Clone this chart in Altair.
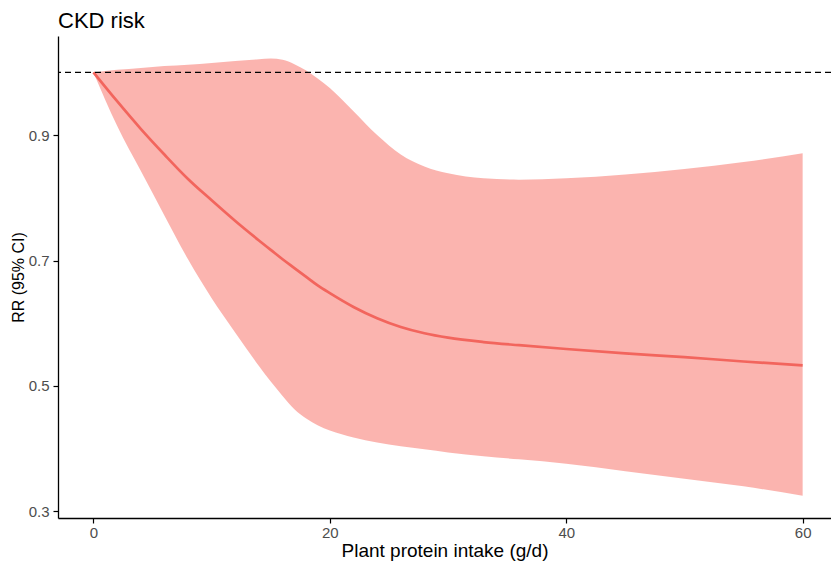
import altair as alt
import pandas as pd

# Values
x_vals = [0, 2, 4, 6, 8, 10, 12, 14, 15, 16, 17, 18, 19, 20, 22, 24, 26, 28, 30, 33, 36, 40, 45, 50, 55, 60]
rr = [1.000, 0.954, 0.910, 0.869, 0.830, 0.796, 0.763, 0.732, 0.717, 0.702, 0.688, 0.674, 0.660, 0.648,
      0.626, 0.608, 0.594, 0.584, 0.577, 0.570, 0.565, 0.559, 0.552, 0.546, 0.539, 0.533]
lower = [1.000, 0.915, 0.843, 0.772, 0.702, 0.640, 0.585, 0.532, 0.507, 0.484, 0.463, 0.448, 0.437, 0.429,
         0.418, 0.410, 0.404, 0.399, 0.394, 0.388, 0.383, 0.376, 0.364, 0.352, 0.340, 0.325]
upper = [1.000, 1.004, 1.007, 1.010, 1.012, 1.015, 1.018, 1.021, 1.022, 1.020, 1.013, 1.003, 0.990, 0.975,
         0.938, 0.900, 0.869, 0.850, 0.839, 0.831, 0.829, 0.831, 0.837, 0.846, 0.857, 0.871]
ref_value = [1.0]
x_ticks = [0, 20, 40, 60]
y_ticks = [0.3, 0.5, 0.7, 0.9]
title_text = ["CKD risk"]

df = pd.DataFrame({"x": x_vals, "rr": rr, "lower": lower, "upper": upper})
FONT = "Liberation Sans"

xscale = alt.Scale(domain=[-3, 62.4], nice=False, zero=False)
yscale = alt.Scale(domain=[0.2895, 1.058], nice=False, zero=False)

band = alt.Chart(df).mark_area(color="#F8766D", opacity=0.55, interpolate="monotone").encode(
    x=alt.X("x:Q", scale=xscale,
            axis=alt.Axis(values=x_ticks, title="Plant protein intake (g/d)", format="d",
                          labelPadding=2, titlePadding=1, titleFontSize=19)),
    y=alt.Y("lower:Q", scale=yscale,
            axis=alt.Axis(values=y_ticks, format=".1f", title="RR (95% CI)",
                          labelPadding=4, titlePadding=2, titleFontSize=16)),
    y2="upper:Q",
)
line = alt.Chart(df).mark_line(color="#F2655D", strokeWidth=2.7, interpolate="monotone").encode(
    x=alt.X("x:Q", scale=xscale),
    y=alt.Y("rr:Q", scale=yscale),
)
ref = alt.Chart(pd.DataFrame({"y": ref_value})).mark_rule(
    color="black", strokeDash=[6, 4], strokeWidth=1.4
).encode(y=alt.Y("y:Q", scale=yscale))

title = alt.Chart(pd.DataFrame({"t": title_text})).mark_text(
    align="left", baseline="alphabetic", font=FONT, fontSize=22, color="black"
).encode(text="t:N", x=alt.value(0), y=alt.value(-8))

chart = alt.layer(band, line, ref, title).properties(
    width=773,
    height=482,
    autosize=alt.AutoSizeParams(type="none"),
    padding={"left": 50, "top": 28, "right": 0, "bottom": 43},
).configure_view(stroke=None).configure_axis(
    grid=False,
    domainColor="black",
    domainWidth=1.3,
    tickColor="black",
    tickWidth=1.2,
    tickSize=5,
    labelColor="#4D4D4D",
    labelFont=FONT,
    labelFontSize=15,
    titleFont=FONT,
    titleFontWeight="normal",
    titleColor="black",
)

chart.save("out.html", embed_options={"renderer": "svg", "actions": False})
